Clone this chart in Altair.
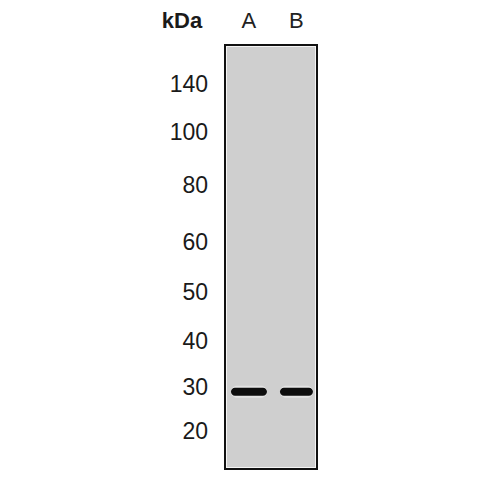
import altair as alt
import pandas as pd

# ---- data read from the blot ----
lanes = ["A", "B"]
marker_kda = ["140", "100", "80", "60", "50", "40", "30", "20"]
marker_rf = [0.094, 0.208, 0.333, 0.467, 0.585, 0.700, 0.809, 0.913]  # relative migration
band_lane = ["A", "B"]
band_rf = [0.818, 0.818]
band_len = [36, 33]

W, H = 92, 424

markers = pd.DataFrame({"kda": marker_kda, "rf": marker_rf})
bands = pd.DataFrame({"lane": band_lane, "rf": band_rf, "len": band_len})
one = pd.DataFrame({"t": ["kDa"]})

yscale = alt.Scale(domain=[0, 1], reverse=True, nice=False, zero=False)
xscale = alt.Scale(domain=lanes, paddingInner=0.263, paddingOuter=0.1, align=0.68)
xenc = alt.X("lane:N", scale=xscale,
             axis=alt.Axis(orient="top", title=None, ticks=False, domain=False,
                           labelAngle=0, labelFontSize=22, labelFont="Liberation Sans",
                           labelColor="#222222", labelPadding=13, grid=False))

bg = alt.Chart(one).mark_rect(color="#cfcfcf").encode(
    x=alt.value(2), x2=alt.value(W - 2), y=alt.value(2), y2=alt.value(H - 2))

halo = alt.Chart(bands).mark_tick(orient="horizontal", thickness=12, cornerRadius=6,
                                  color="#e4e4e4", opacity=0.9).encode(
    x=xenc, y=alt.Y("rf:Q", scale=yscale, axis=None),
    size=alt.Size("len:Q", scale=None))

band = alt.Chart(bands).mark_tick(orient="horizontal", thickness=8, cornerRadius=4,
                                  color="#0d0d0d", opacity=1).encode(
    x=xenc, y=alt.Y("rf:Q", scale=yscale, axis=None),
    size=alt.Size("len:Q", scale=None))

labels = alt.Chart(markers).mark_text(align="right", baseline="middle", fontSize=23,
                                      font="Liberation Sans", color="#1a1a1a").encode(
    x=alt.value(-17), y=alt.Y("rf:Q", scale=yscale, axis=None), text="kda:N")

kda = alt.Chart(one).mark_text(align="center", baseline="alphabetic", fontSize=22,
                               fontWeight="bold", font="Liberation Sans",
                               color="#1a1a1a").encode(
    x=alt.value(-43), y=alt.value(-17), text="t:N")

chart = alt.layer(bg, halo, band, labels, kda).properties(
    width=W, height=H,
    autosize=alt.AutoSizeParams(type="none"),
    padding={"left": 217, "top": 37, "right": 160, "bottom": 12},
    background="white",
).configure_view(stroke="#111111", strokeWidth=2, fill="#f4f4f4")

chart.save("out.html", embed_options={"renderer": "svg", "actions": False})
